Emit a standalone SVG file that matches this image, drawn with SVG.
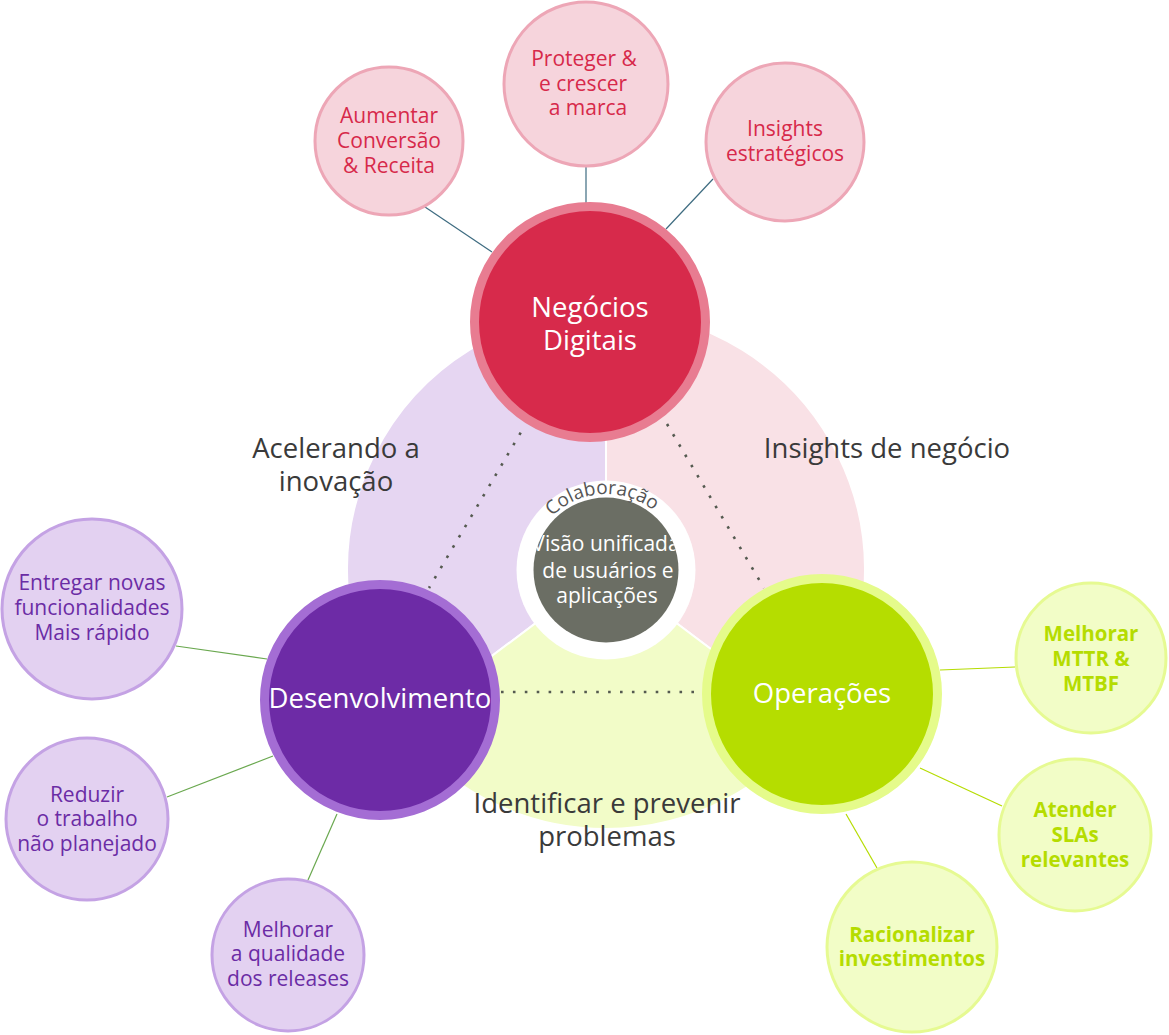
<svg xmlns="http://www.w3.org/2000/svg" width="1169" height="1035" viewBox="0 0 1169 1035">
<style>
text{font-family:"Open Sans","Noto Sans","Liberation Sans",sans-serif;text-anchor:middle}
.main{font-size:27.5px;fill:#ffffff}
.sect{font-size:27.5px;fill:#3a3a3a}
.sr{font-size:21px;fill:#d7294a}
.sp{font-size:21px;fill:#6b2ca5}
.sg{font-size:20.5px;fill:#b5dc00;font-weight:bold}
.satr{fill:#f6d4dc;stroke:#eda6b6;stroke-width:3}
.satp{fill:#e3d1f1;stroke:#c4a2e4;stroke-width:3}
.satg{fill:#f2fdc7;stroke:#e6fa92;stroke-width:3}
.dot{stroke:#555a50;stroke-width:2.6;stroke-dasharray:2.6 9.3;fill:none}
</style>
<defs>
<clipPath id="gclip"><circle cx="606" cy="570" r="72.5"/></clipPath>
<path id="arc" d="M530,570 A76,76 0 0 1 682,570"/>
</defs>
<rect width="1169" height="1035" fill="#ffffff"/>
<g id="background">
<path d="M606,570 L606,311 A259,259 0 0 0 399.2,725.9 Z" fill="#e6d6f2" stroke="#fff" stroke-width="2"/>
<path d="M606,570 L606,311 A259,259 0 0 1 812.8,725.9 Z" fill="#f9e1e6" stroke="#fff" stroke-width="2"/>
<path d="M606,570 L812.8,725.9 A259,259 0 0 1 399.2,725.9 Z" fill="#f2fcc8" stroke="#fff" stroke-width="2"/>
<text class="sect" x="336" y="458">Acelerando a</text>
<text class="sect" x="336" y="491">inovação</text>
<text class="sect" x="887" y="458">Insights de negócio</text>
<text class="sect" x="607" y="813">Identificar e prevenir</text>
<text class="sect" x="607" y="846">problemas</text>
</g>
<g id="connectors">
<line class="dot" x1="520.7" y1="432.7" x2="429" y2="588"/>
<line class="dot" x1="667" y1="424" x2="764" y2="588"/>
<line class="dot" x1="501" y1="692" x2="697" y2="692"/>
<g stroke="#3d6b80" stroke-width="1.2">
<line x1="425" y1="207" x2="492" y2="252"/>
<line x1="586" y1="167" x2="586" y2="205"/>
<line x1="713" y1="179" x2="666" y2="229"/>
</g>
<g stroke="#6aa84f" stroke-width="1.2">
<line x1="176" y1="646" x2="267" y2="659"/>
<line x1="167" y1="797" x2="273" y2="756"/>
<line x1="308" y1="880" x2="337" y2="814"/>
</g>
<g stroke="#b5dc00" stroke-width="1.2">
<line x1="940" y1="670" x2="1015" y2="667"/>
<line x1="920" y1="768" x2="1002" y2="806"/>
<line x1="846" y1="814" x2="877" y2="868"/>
</g>
</g>
<g id="center">
<circle cx="606" cy="570" r="89.5" fill="#ffffff"/>
<circle cx="606" cy="570" r="72.5" fill="#6b6e64"/>
<text style="font-size:19px;fill:#555"><textPath href="#arc" startOffset="48.2%">Colaboração</textPath></text>
<g clip-path="url(#gclip)">
<text x="606" y="551" style="font-size:21px;fill:#fff">Visão unificada</text>
<text x="608" y="578" style="font-size:21px;fill:#fff">de usuários e</text>
<text x="607" y="603" style="font-size:21px;fill:#fff">aplicações</text>
</g>
</g>
<g id="negocios">
<circle cx="590" cy="322" r="115.5" fill="#d72a4b" stroke="#e87c91" stroke-width="9"/>
<text class="main" x="590" y="317">Negócios</text>
<text class="main" x="590" y="350">Digitais</text>
</g>
<g id="desenvolvimento">
<circle cx="380" cy="700" r="115.5" fill="#6d2ba6" stroke="#a46dd4" stroke-width="9"/>
<text class="main" x="380" y="708">Desenvolvimento</text>
</g>
<g id="operacoes">
<circle cx="822" cy="694" r="115.5" fill="#b5dd00" stroke="#e5fb8b" stroke-width="9"/>
<text class="main" x="822" y="703">Operações</text>
</g>
<g id="aumentar">
<circle class="satr" cx="389" cy="141" r="74"/>
<text class="sr" x="389" y="123">Aumentar</text>
<text class="sr" x="389" y="148">Conversão</text>
<text class="sr" x="389" y="173">&amp; Receita</text>
</g>
<g id="proteger">
<circle class="satr" cx="586" cy="84" r="82"/>
<text class="sr" x="584" y="66">Proteger &amp;</text>
<text class="sr" x="583" y="91">e crescer</text>
<text class="sr" x="588" y="115">a marca</text>
</g>
<g id="insights">
<circle class="satr" cx="785" cy="142" r="79"/>
<text class="sr" x="785" y="136">Insights</text>
<text class="sr" x="785" y="161">estratégicos</text>
</g>
<g id="entregar">
<circle class="satp" cx="92" cy="609" r="90"/>
<text class="sp" x="92" y="590">Entregar novas</text>
<text class="sp" x="92" y="615">funcionalidades</text>
<text class="sp" x="92" y="640">Mais rápido</text>
</g>
<g id="reduzir">
<circle class="satp" cx="87" cy="819" r="81"/>
<text class="sp" x="87" y="802">Reduzir</text>
<text class="sp" x="87" y="826">o trabalho</text>
<text class="sp" x="87" y="851">não planejado</text>
</g>
<g id="qualidade">
<circle class="satp" cx="288" cy="955" r="76"/>
<text class="sp" x="288" y="937">Melhorar</text>
<text class="sp" x="288" y="961">a qualidade</text>
<text class="sp" x="288" y="986">dos releases</text>
</g>
<g id="mttr">
<circle class="satg" cx="1091" cy="658" r="75"/>
<text class="sg" x="1091" y="641">Melhorar</text>
<text class="sg" x="1091" y="666">MTTR &amp;</text>
<text class="sg" x="1091" y="691">MTBF</text>
</g>
<g id="slas">
<circle class="satg" cx="1075" cy="835" r="76"/>
<text class="sg" x="1075" y="817">Atender</text>
<text class="sg" x="1075" y="842">SLAs</text>
<text class="sg" x="1075" y="867">relevantes</text>
</g>
<g id="racionalizar">
<circle class="satg" cx="912" cy="947" r="85"/>
<text class="sg" x="912" y="942">Racionalizar</text>
<text class="sg" x="912" y="966">investimentos</text>
</g>
</svg>
